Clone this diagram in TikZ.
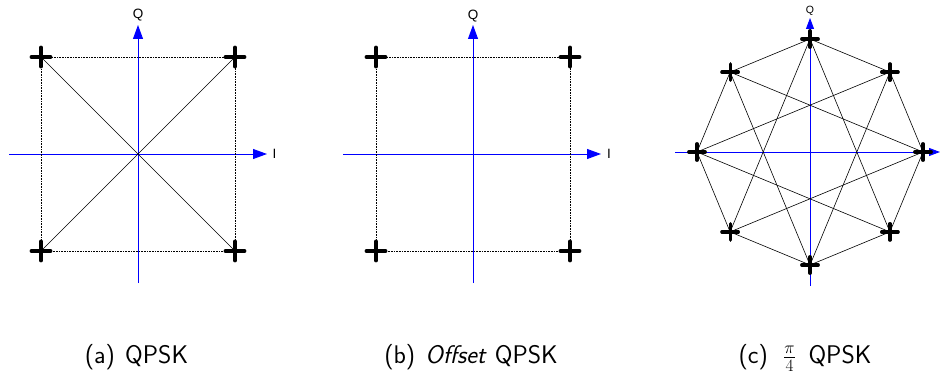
\documentclass[tikz,border=0pt]{standalone}
\usepackage{fontspec}
\newfontfamily\labfont{Liberation Sans}
\usetikzlibrary{arrows.meta,shapes.misc}
\begin{document}
\begin{tikzpicture}[x=1pt,y=-1pt,
  axis/.style={blue, line width=0.9pt, -{Triangle[length=14pt,width=10pt]}},
  axisc/.style={blue, line width=0.9pt, -{Triangle[length=11pt,width=8pt]}},
  edge/.style={black, line width=0.7pt, dash pattern=on 0.8pt off 0.8pt},
  diag/.style={black, line width=0.6pt},
  starline/.style={black, line width=0.6pt},
  mk/.style={draw, cross out, rotate=45, minimum size=10pt, inner sep=0pt, line width=3.6pt, line cap=round},
  mkc/.style={draw, cross out, rotate=45, minimum size=8.5pt, inner sep=0pt, line width=3.2pt, line cap=round},
  axlab/.style={font=\labfont\fontsize{13.5}{13.5}\selectfont, inner sep=0pt},
  axlabc/.style={font=\labfont\fontsize{10.5}{10.5}\selectfont, inner sep=0pt},
  capt/.style={font=\sffamily\fontsize{25.5}{28}\selectfont, anchor=base, inner sep=0pt}
]
\useasboundingbox (0,0) rectangle (941,377);

% ---------- (a) QPSK ----------
\coordinate (aO) at (138,154);
\coordinate (aL) at (9,154);
\coordinate (aR) at (267,154);
\coordinate (aB) at (138,283);
\coordinate (aT) at (138,25);
\draw[axis] (aL) -- (aR);
\draw[axis] (aB) -- (aT);
\node[axlab] (aI) at (274.5,154) {I};
\node[axlab] (aQ) at (138,15.5) {Q};
\coordinate (a1) at (41,57);
\coordinate (a2) at (235,57);
\coordinate (a3) at (235,251);
\coordinate (a4) at (41,251);
\draw[edge] (a1) -- (a2) -- (a3) -- (a4) -- cycle;
\draw[diag] (a1) -- (a3);
\draw[diag] (a2) -- (a4);
\foreach \p in {a1,a2,a3,a4} \node[mk] (m\p) at (\p) {};
\node[capt] (capa) at (136.5,363) {(a)\hspace{0.4em}QPSK};

% ---------- (b) Offset QPSK ----------
\coordinate (bL) at (343,154);
\coordinate (bR) at (601,154);
\coordinate (bB) at (473,283);
\coordinate (bT) at (473,25);
\draw[axis] (bL) -- (bR);
\draw[axis] (bB) -- (bT);
\node[axlab] (bI) at (609,154) {I};
\node[axlab] (bQ) at (473,16) {Q};
\coordinate (b1) at (376,57);
\coordinate (b2) at (570,57);
\coordinate (b3) at (570,251);
\coordinate (b4) at (376,251);
\draw[edge] (b1) -- (b2) -- (b3) -- (b4) -- cycle;
\foreach \p in {b1,b2,b3,b4} \node[mk] (m\p) at (\p) {};
\node[capt] (capb) at (471,363) {(b)\hspace{0.4em}\textit{Offset} QPSK};

% ---------- (c) pi/4 QPSK ----------
\coordinate (cO) at (810,152);
\coordinate (cL) at (675,152);
\coordinate (cR) at (940,152);
\coordinate (cB) at (810,286);
\coordinate (cT) at (810,18);
\draw[axisc] (cL) -- (cR);
\draw[axisc] (cB) -- (cT);
\node[axlabc] (cQ) at (810,11) {Q};
\foreach \i in {0,...,7} \coordinate (c\i) at ([shift={(\i*45:113)}]cO);
\foreach \a/\b in {0/1,1/2,2/3,3/4,4/5,5/6,6/7,7/0,0/3,1/4,2/5,3/6,4/7,5/0,6/1,7/2}
  \draw[starline] (c\a) -- (c\b);
\foreach \i in {0,...,7} \node[mkc] (mc\i) at (c\i) {};
\node[capt] (capc) at (805,363) {(c)\hspace{0.6em}$\frac{\pi}{4}$\hspace{0.5em}QPSK};
\end{tikzpicture}
\end{document}
